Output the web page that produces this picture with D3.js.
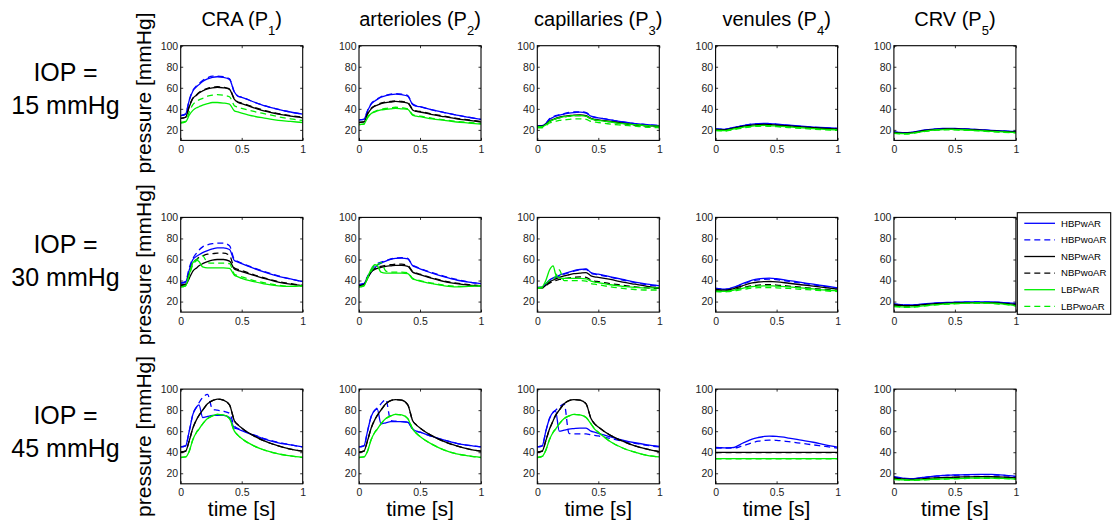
<!DOCTYPE html>
<html>
<head>
<meta charset="utf-8">
<script src="https://cdn.jsdelivr.net/npm/d3@7"></script>
<style>
  body { margin: 0; background: #fff; }
  svg { display: block; }
  text { font-family: "Liberation Sans", Arial, Helvetica, sans-serif; }
</style>
</head>
<body>
<svg id="chart" width="1114" height="527"></svg>
<script>
// Sample times over one cardiac cycle [s]
const timeS = [0, 0.04, 0.07, 0.1, 0.13, 0.15, 0.18, 0.22, 0.26, 0.3, 0.35, 0.4, 0.44, 0.47, 0.5, 0.6, 0.7, 0.8, 0.9, 1.0];

const seriesNames = ["HBPwAR", "HBPwoAR", "NBPwAR", "NBPwoAR", "LBPwAR", "LBPwoAR"];
const compartments = ["CRA", "arterioles", "capillaries", "venules", "CRV"];
const compartmentSub = ["1", "2", "3", "4", "5"];
const iopLevels = [15, 30, 45];
const xTicks = [0, 0.5, 1];
const yTicks = [20, 40, 60, 80, 100];

// Pressure [mmHg] per compartment, one row per series (order as seriesNames)
// IOP = 15 mmHg
const cra15 = [
  [33.5, 35, 48, 57, 61, 63, 66, 68.5, 70, 70.5, 70, 68, 56, 52, 51, 46.5, 42.5, 39.5, 37, 35],
  [33.5, 35, 48.5, 57.5, 62, 64, 67, 69.5, 71, 71, 70.5, 68.5, 56, 52, 51, 46.5, 42.5, 39.5, 37, 35],
  [31, 32, 42, 50, 53, 55, 57, 59, 60, 60.5, 60, 58.5, 49, 46, 45, 41, 37.5, 35, 33, 31.5],
  [31, 32, 42.5, 50.5, 53.5, 55.5, 57.5, 59.5, 60.5, 61, 60.5, 59, 49.5, 46.5, 45.5, 41.5, 38, 35.5, 33.5, 32],
  [26.5, 27.5, 34, 38.5, 41, 42, 43.5, 45, 46, 46, 45.5, 44.5, 38, 37, 36, 33, 31, 29, 28, 27],
  [27, 28, 37, 44, 47, 48.5, 50, 52, 53, 53.5, 53, 51.5, 43, 41.5, 40.5, 37.5, 35, 32.5, 30.5, 29]
];
const art15 = [
  [29.5, 30, 38, 44.5, 47.5, 49, 51, 52.5, 53.5, 54, 53.5, 52, 44, 42.5, 42, 39, 36.5, 34, 32, 30],
  [29.5, 30, 38.5, 45, 48, 49.5, 51.5, 53, 54, 54.5, 54, 52.5, 44.5, 43, 42, 39, 36.5, 34, 32, 30],
  [27, 27.5, 35, 40, 42.5, 43.5, 45, 46, 46.5, 47, 46.5, 45.5, 39, 37.5, 37, 34.5, 32.5, 30.5, 29, 27.5],
  [27, 27.5, 35.5, 40.5, 43, 44, 45.5, 46.5, 47, 47.5, 47, 46, 39.5, 38, 37.5, 35, 33, 31, 29.5, 28],
  [25, 25.5, 31.5, 35.5, 37, 38, 39, 39.5, 40, 40.5, 40, 39.5, 34, 33, 32.5, 30.5, 29, 27.5, 26.5, 25.5],
  [25, 25.5, 32, 36, 37.5, 38.5, 39.5, 40.5, 41, 41.5, 41, 40, 34.5, 33.5, 33, 31, 29.5, 28, 27, 26]
];
const cap15 = [
  [24, 24, 26, 30, 32, 33, 34, 35, 36, 36.5, 36.8, 36, 33, 32, 31.5, 29.5, 27.5, 26, 25, 24],
  [24, 24, 26, 30.5, 32.5, 33.5, 34.5, 35.5, 36.5, 37, 37.2, 36.5, 33.2, 32, 31.5, 29.5, 27.5, 26, 25, 24],
  [23.5, 23.5, 25.5, 28.5, 30, 31, 32, 33, 33.5, 34, 34.2, 33.5, 31, 30, 29.5, 28, 26.5, 25, 24, 23.5],
  [23, 23, 25, 28, 29.5, 30.5, 31.5, 32.5, 33, 33.5, 33.5, 33, 30.5, 29.5, 29, 27.5, 26, 24.5, 23.5, 23],
  [23, 23, 25, 28, 29.5, 30.5, 31.5, 32.5, 33, 33.5, 33.5, 33, 30.5, 29.5, 29, 27.5, 26, 25, 24, 23.5],
  [22, 22, 24, 26.5, 27.5, 28, 29, 29.5, 30, 30.5, 30.5, 30, 28, 27.5, 27, 25.5, 24.5, 23.5, 22.5, 22]
];
const ven15 = [
  [21, 20.7, 20.5, 21, 21.8, 22.3, 23, 24, 24.8, 25.5, 26, 26.2, 26, 25.8, 25.5, 24.5, 23.5, 22.7, 22, 21.5],
  [21, 20.7, 20.5, 21, 21.8, 22.3, 23, 24, 24.8, 25.5, 25.8, 26, 25.8, 25.6, 25.3, 24.3, 23.3, 22.5, 21.8, 21.3],
  [20.5, 20.2, 20, 20.5, 21.2, 21.7, 22.4, 23.3, 24, 24.6, 25, 25.2, 25, 24.8, 24.6, 23.7, 22.8, 22, 21.3, 20.8],
  [20, 19.8, 19.6, 20, 20.7, 21.2, 21.8, 22.7, 23.4, 24, 24.4, 24.6, 24.4, 24.2, 24, 23.2, 22.3, 21.5, 20.8, 20.3],
  [19.8, 19.5, 19.3, 19.8, 20.4, 20.9, 21.5, 22.3, 23, 23.6, 24, 24.2, 24, 23.8, 23.6, 22.8, 22, 21.2, 20.5, 20],
  [19.3, 19, 18.8, 19.2, 19.8, 20.3, 20.9, 21.7, 22.4, 23, 23.4, 23.6, 23.4, 23.2, 23, 22.2, 21.4, 20.6, 20, 19.5]
];
const crv15 = [
  [18, 17.6, 17.4, 17.4, 17.6, 17.9, 18.4, 19.2, 19.9, 20.5, 21, 21.3, 21.4, 21.4, 21.3, 20.9, 20.3, 19.6, 19, 18.5],
  [17.8, 17.4, 17.2, 17.2, 17.4, 17.7, 18.2, 19, 19.7, 20.3, 20.8, 21.1, 21.2, 21.2, 21.1, 20.7, 20.1, 19.4, 18.8, 18.3],
  [17.5, 17.1, 16.9, 16.9, 17.1, 17.4, 17.9, 18.7, 19.4, 20, 20.5, 20.8, 20.9, 20.9, 20.8, 20.4, 19.8, 19.1, 18.5, 18],
  [17.2, 16.8, 16.6, 16.6, 16.8, 17.1, 17.6, 18.4, 19.1, 19.7, 20.2, 20.5, 20.6, 20.6, 20.5, 20.1, 19.5, 18.8, 18.2, 17.7],
  [17, 16.6, 16.4, 16.4, 16.6, 16.9, 17.4, 18.2, 18.9, 19.5, 20, 20.3, 20.4, 20.4, 20.3, 19.9, 19.3, 18.6, 18, 17.5],
  [16.7, 16.3, 16.1, 16.1, 16.3, 16.6, 17.1, 17.9, 18.6, 19.2, 19.7, 20, 20.1, 20.1, 20, 19.6, 19, 18.3, 17.7, 17.2]
];

// IOP = 30 mmHg
const cra30 = [
  [37.5, 38.5, 50, 60, 63, 64.5, 66.5, 68.5, 70, 71, 71, 69.5, 59, 57.5, 56, 51.5, 47.5, 44, 41.5, 39],
  [37.5, 39, 52, 61, 66, 69, 72, 74, 75, 75.5, 75.5, 73, 60, 58, 56.5, 52, 48, 44.5, 41.5, 39],
  [35.5, 36, 42, 49, 52, 54, 56, 58, 59.5, 60, 60, 58.5, 51, 49.5, 48.5, 45, 41.5, 38.5, 36.5, 35],
  [35.5, 36.5, 47, 57, 60, 62, 63.5, 65, 65.5, 66, 66, 64, 52, 50.5, 49.5, 45.5, 42, 39, 37, 35.5],
  [34, 35, 46, 57, 59.5, 58, 53, 52, 52, 52, 52, 51.5, 45, 43.5, 42, 39, 36.5, 35, 34.5, 35],
  [34, 35, 45, 55, 59, 61.5, 63.5, 57, 56.5, 56.5, 56.5, 56, 46, 44.5, 43.5, 40, 37.5, 35.5, 34.5, 35]
];
const art30 = [
  [36, 37, 43, 48, 52, 54.5, 56.5, 58.5, 60, 61, 61.3, 60.5, 54, 52.5, 51, 47, 43.5, 40.5, 38.5, 37],
  [36, 37, 44, 50, 54.5, 56, 57.5, 59, 60.5, 61.5, 61.8, 61, 54.5, 53, 51.5, 47.5, 44, 41, 38.5, 37],
  [35, 36, 42, 48, 50.5, 51.5, 52.5, 53.5, 54, 54.5, 54.5, 53.5, 48, 46.5, 45.5, 42, 39, 37, 35.5, 35],
  [35, 36, 43, 49, 51.5, 52.5, 53.5, 54.5, 55, 55.5, 55.5, 54.5, 48.5, 47, 46, 42.5, 39.5, 37.5, 36, 35],
  [34, 35, 43, 51, 55, 54, 48, 47, 47, 47, 47, 46.5, 41.5, 40.5, 39.5, 37, 35, 34, 34.5, 35],
  [34, 35, 42, 49, 53, 55, 57, 49, 48, 48, 48, 47.5, 42, 41, 40, 37.5, 35.5, 34.5, 34.5, 35]
];
const cap30 = [
  [33.5, 33.5, 37, 40.5, 42.5, 43.5, 45, 46.5, 48, 49.5, 50.5, 51, 47.5, 46.5, 46, 43.5, 41, 38.5, 36.5, 35],
  [33.5, 33.5, 37, 40, 42, 43, 44.5, 46, 47.5, 49, 50, 50.5, 47, 46, 45.5, 43, 40.5, 38, 36, 34.5],
  [33, 33, 35.5, 38.5, 40.5, 41.5, 43, 44.5, 45.5, 46.5, 47, 47.5, 44.5, 43.5, 43, 41, 38.5, 36.5, 34.5, 33],
  [33, 33, 35, 37.5, 39, 40, 41, 42, 42.5, 43, 43.5, 43, 40.5, 39.5, 39, 37, 35.5, 34, 33, 32.5],
  [33, 34, 40, 50, 54, 46, 42.5, 42, 42, 42, 42, 41.5, 39.5, 38.5, 38, 36, 34.5, 33.5, 33, 33],
  [32.5, 33, 37, 40, 41, 44, 50, 40, 40, 40, 40, 39.5, 37, 36.5, 36, 34, 32.5, 31.5, 31, 31]
];
const ven30 = [
  [32.5, 32, 31.7, 32, 33, 33.7, 35, 37, 38.8, 40.3, 41.5, 42, 42.2, 42, 41.7, 40, 38.3, 36.5, 34.8, 33],
  [32.5, 32, 31.7, 31.9, 32.8, 33.4, 34.6, 36.5, 38.2, 39.6, 40.7, 41.2, 41.3, 41.2, 40.9, 39.3, 37.6, 35.9, 34.3, 32.7],
  [31.5, 31, 30.8, 31, 31.8, 32.4, 33.5, 35, 36.5, 37.7, 38.6, 39, 39.1, 39, 38.8, 37.4, 36, 34.6, 33.2, 31.8],
  [30.5, 30.2, 30, 30.2, 30.8, 31.3, 32.2, 33.3, 34.3, 35.1, 35.7, 36, 36, 35.9, 35.7, 34.7, 33.6, 32.5, 31.5, 30.7],
  [30, 29.8, 29.7, 29.9, 30.4, 30.8, 31.6, 32.6, 33.5, 34.2, 34.7, 35, 35, 34.9, 34.7, 33.9, 33, 32, 31, 30.3],
  [29.5, 29.3, 29.2, 29.4, 29.8, 30.1, 30.7, 31.5, 32.2, 32.8, 33.2, 33.4, 33.4, 33.3, 33.1, 32.5, 31.7, 30.9, 30.1, 29.6]
];
const crv30 = [
  [17.8, 17.3, 17, 16.8, 16.8, 16.9, 17.1, 17.5, 17.9, 18.3, 18.7, 19, 19.2, 19.3, 19.4, 19.7, 19.8, 19.6, 19.1, 18.2],
  [17.6, 17.1, 16.8, 16.6, 16.6, 16.7, 16.9, 17.3, 17.7, 18.1, 18.5, 18.8, 19, 19.1, 19.2, 19.5, 19.6, 19.4, 18.9, 18],
  [17, 16.6, 16.3, 16.1, 16.1, 16.2, 16.4, 16.8, 17.2, 17.6, 18, 18.3, 18.5, 18.6, 18.7, 19, 19.1, 18.9, 18.3, 17.3],
  [16.5, 16.1, 15.8, 15.6, 15.6, 15.7, 15.9, 16.3, 16.7, 17.1, 17.5, 17.8, 18, 18.1, 18.2, 18.5, 18.6, 18.4, 17.8, 16.8],
  [15.6, 15.2, 14.9, 14.8, 14.8, 14.9, 15.2, 15.7, 16.2, 16.7, 17.2, 17.6, 17.9, 18.1, 18.2, 18.6, 18.7, 18.5, 17.6, 16.1],
  [15.3, 14.9, 14.6, 14.5, 14.5, 14.6, 14.9, 15.4, 15.9, 16.4, 16.9, 17.3, 17.6, 17.8, 17.9, 18.3, 18.4, 18.2, 17.3, 15.8]
];

// IOP = 45 mmHg
const cra45 = [
  [45, 46, 60, 76, 83, 85, 73, 74, 75, 75, 75, 73, 63, 62, 60.5, 56, 52, 49, 47, 45],
  [45, 46, 60, 76, 83, 87, 92, 95, 81, 80, 79, 77, 65, 62.5, 61, 56.5, 52.5, 49.5, 47, 45],
  [40, 41, 51, 63, 71, 75, 80, 86, 89, 90.5, 89.5, 85, 70, 66, 63, 55.5, 50, 46, 43, 41],
  [40, 41, 51, 63, 71, 75, 80, 86, 89, 90.5, 89.5, 85, 70, 66, 63, 55.5, 50, 46, 43, 41],
  [35, 35.5, 41, 52, 59, 62, 67, 72, 74.5, 76, 75.5, 72, 60, 56, 53, 46, 41.5, 38.5, 36.5, 35],
  [35, 35.5, 41, 52, 59, 62, 67, 72, 74.5, 76, 75.5, 72, 60, 56, 53, 46, 41.5, 38.5, 36.5, 35]
];
const art45 = [
  [45, 46, 60, 74, 80, 81, 67, 68, 69, 69, 69, 68.5, 62, 60, 59, 55, 51.5, 48.5, 46.5, 45],
  [45, 46, 60, 74, 80, 82, 86, 90, 70, 69.5, 69, 68.5, 62, 60, 59, 55, 51.5, 48.5, 46.5, 45],
  [40, 41, 51, 63, 71, 75, 80, 86, 89, 90, 89.5, 85, 70, 66, 63, 55.5, 50, 46, 43, 41],
  [40, 41, 51, 63, 71, 75, 80, 86, 89, 90, 89.5, 85, 70, 66, 63, 55.5, 50, 46, 43, 41],
  [35, 35.5, 41, 52, 59, 62, 67, 72, 74.5, 76, 75.5, 72, 62, 58, 55, 47.5, 42, 38.5, 36.5, 35],
  [35, 35.5, 41, 52, 59, 62, 67, 72, 74.5, 76, 75.5, 72, 62, 58, 55, 47.5, 42, 38.5, 36.5, 35]
];
const cap45 = [
  [45, 46, 60, 72, 78, 79, 60, 61, 62, 62.5, 63, 63, 60, 59, 58, 54.5, 51.5, 49, 47, 45.5],
  [45, 46, 60, 72, 78, 80, 83, 86, 58, 57.5, 57.5, 57.5, 56.5, 56, 55.5, 53, 50.5, 48.5, 46.5, 45],
  [40, 41, 51, 62, 70, 75, 80, 86, 89, 90, 89.5, 86, 72, 67, 64, 56, 50.5, 46, 43, 40.5],
  [40, 41, 51, 62, 70, 75, 80, 86, 89, 90, 89.5, 86, 72, 67, 64, 56, 50.5, 46, 43, 40.5],
  [35, 36, 42, 52, 59, 62, 67, 72, 74.5, 76, 75.5, 73, 67, 62, 59, 50, 44, 40, 37, 35.5],
  [35, 36, 42, 52, 59, 62, 67, 72, 74.5, 76, 75.5, 73, 67, 62, 59, 50, 44, 40, 37, 35.5]
];
const ven45 = [
  [44.5, 44.3, 44.2, 44.2, 44.3, 44.5, 46, 48.5, 50.5, 52.5, 54, 55, 55.3, 55.2, 55, 53.5, 51.5, 49.5, 47, 44.8],
  [44, 44, 44, 44, 44, 44, 44.5, 46, 47.5, 49, 50.5, 51.3, 51.5, 51.5, 51.3, 50, 48.5, 47, 45.5, 44],
  [39.8, 39.8, 39.8, 39.8, 39.8, 39.8, 39.8, 39.8, 39.8, 39.8, 39.8, 39.8, 39.8, 39.8, 39.8, 39.8, 39.8, 39.8, 39.8, 39.8],
  [39.6, 39.6, 39.6, 39.6, 39.6, 39.6, 39.6, 39.6, 39.6, 39.6, 39.6, 39.6, 39.6, 39.6, 39.6, 39.6, 39.6, 39.6, 39.6, 39.6],
  [34, 34, 34, 34, 34, 34, 34, 34, 34, 34, 34, 34, 34, 34, 34, 34, 34, 34, 34, 34],
  [33.8, 33.8, 33.8, 33.8, 33.8, 33.8, 33.8, 33.8, 33.8, 33.8, 33.8, 33.8, 33.8, 33.8, 33.8, 33.8, 33.8, 33.8, 33.8, 33.8]
];
const crv45 = [
  [16.8, 16, 15.4, 15.1, 15, 15, 15.2, 15.8, 16.4, 16.9, 17.5, 17.9, 18.2, 18.3, 18.4, 18.8, 19, 18.9, 18.2, 17],
  [16.5, 15.8, 15.2, 14.9, 14.8, 14.8, 15, 15.5, 16.1, 16.6, 17.2, 17.6, 17.9, 18, 18.1, 18.5, 18.7, 18.6, 17.9, 16.7],
  [15.5, 15, 14.6, 14.3, 14.2, 14.2, 14.3, 14.6, 15, 15.3, 15.6, 15.9, 16.1, 16.2, 16.3, 16.6, 16.8, 16.7, 16.3, 15.6],
  [15.3, 14.8, 14.4, 14.1, 14, 14, 14.1, 14.4, 14.8, 15.1, 15.4, 15.7, 15.9, 16, 16.1, 16.4, 16.6, 16.5, 16.1, 15.4],
  [14.3, 14, 13.8, 13.6, 13.5, 13.5, 13.6, 13.8, 14, 14.2, 14.5, 14.7, 14.8, 14.9, 15, 15.3, 15.5, 15.4, 15.1, 14.5],
  [14.1, 13.8, 13.6, 13.4, 13.3, 13.3, 13.4, 13.6, 13.8, 14, 14.3, 14.5, 14.6, 14.7, 14.8, 15.1, 15.3, 15.2, 14.9, 14.3]
];

const panelRows = [
  [cra15, art15, cap15, ven15, crv15],
  [cra30, art30, cap30, ven30, crv30],
  [cra45, art45, cap45, ven45, crv45]
];

// Line styles per series
const seriesColor = ["#0000ff", "#0000ff", "#000000", "#000000", "#00ee00", "#00ee00"];
const seriesDash = [null, "6,4", null, "6,4", null, "6,4"];

// Grid layout of the small multiples
const panelW = 122, panelH = 94.7;
const colLeft = d3.scaleLinear().domain([0, 1]).range([180.7, 359.0]);
const rowTop = d3.scaleLinear().domain([0, 1]).range([45.7, 217.4]);

const svg = d3.select("#chart");
const x = d3.scaleLinear().domain([0, 1]).range([0, panelW]);
const y = d3.scaleLinear().domain([10, 100]).range([panelH, 0]);

const line = d3.line()
  .x((d, i) => x(timeS[i]))
  .y(d => y(d))
  .curve(d3.curveMonotoneX);

const defs = svg.append("defs");
defs.append("clipPath").attr("id", "panel-clip")
  .append("rect").attr("width", panelW).attr("height", panelH);

panelRows.forEach((row, r) => {
  row.forEach((series, c) => {
    const g = svg.append("g")
      .attr("transform", `translate(${colLeft(c)},${rowTop(r)})`);

    // inward ticks on all four sides
    const tickStyle = sel => {
      sel.select(".domain").remove();
      sel.selectAll(".tick line").attr("stroke", "#000").attr("stroke-width", 0.8);
      sel.selectAll(".tick text").attr("fill", "#222")
        .style("font-size", "10.5px")
        .style("font-family", "'Liberation Sans', Arial, sans-serif");
    };
    g.append("g").attr("transform", `translate(0,${panelH})`)
      .call(d3.axisBottom(x).tickValues(xTicks).tickFormat(d3.format("")).tickSize(-2.5).tickPadding(5))
      .call(tickStyle);
    g.append("g")
      .call(d3.axisLeft(y).tickValues(yTicks).tickSize(-2.5).tickPadding(2.5))
      .call(tickStyle);
    g.append("g")
      .call(d3.axisTop(x).tickValues(xTicks).tickFormat("").tickSize(-2.5))
      .call(tickStyle);
    g.append("g").attr("transform", `translate(${panelW},0)`)
      .call(d3.axisRight(y).tickValues(yTicks).tickFormat("").tickSize(-2.5))
      .call(tickStyle);

    const plot = g.append("g").attr("clip-path", "url(#panel-clip)");
    series.forEach((vals, s) => {
      plot.append("path")
        .datum(vals)
        .attr("d", line)
        .attr("fill", "none")
        .attr("stroke", seriesColor[s])
        .attr("stroke-width", 1.3)
        .attr("stroke-dasharray", seriesDash[s]);
    });

    g.append("rect")
      .attr("width", panelW).attr("height", panelH)
      .attr("fill", "none").attr("stroke", "#000").attr("stroke-width", 1.1);
  });
});

// Column titles with subscripted pressure index
compartments.forEach((name, c) => {
  const t = svg.append("text")
    .attr("x", colLeft(c) + panelW / 2)
    .attr("y", 25.7)
    .attr("text-anchor", "middle")
    .style("font-size", "20px")
    .attr("fill", "#000");
  t.append("tspan").text(name + " (P");
  t.append("tspan").text(compartmentSub[c]).style("font-size", "13px").attr("dy", 9.5);
  t.append("tspan").text(")").attr("dy", -9.5);
});

// Row labels and y-axis titles
iopLevels.forEach((iop, r) => {
  const cy = rowTop(r) + panelH / 2;
  svg.append("text")
    .attr("x", 65.5).attr("y", cy - 12)
    .attr("text-anchor", "middle")
    .style("font-size", "25px")
    .text("IOP =");
  svg.append("text")
    .attr("x", 65.5).attr("y", cy + 21)
    .attr("text-anchor", "middle")
    .style("font-size", "25px")
    .text(`${iop} mmHg`);
  svg.append("text")
    .attr("transform", `translate(151,${cy}) rotate(-90)`)
    .attr("text-anchor", "middle")
    .style("font-size", "21px")
    .text("pressure [mmHg]");
});

// x-axis titles under the bottom row
compartments.forEach((name, c) => {
  svg.append("text")
    .attr("x", colLeft(c) + panelW / 2)
    .attr("y", 516)
    .attr("text-anchor", "middle")
    .style("font-size", "21px")
    .text("time [s]");
});

// Legend
const legend = svg.append("g").attr("transform", "translate(1017.3,212.7)");
legend.append("rect")
  .attr("width", 93.4).attr("height", 101.6)
  .attr("fill", "#fff").attr("stroke", "#000").attr("stroke-width", 1.1);
const legendRow = d3.scaleLinear().domain([0, 5]).range([10.6, 93.6]);
seriesNames.forEach((name, s) => {
  const ly = legendRow(s);
  legend.append("line")
    .attr("x1", 7).attr("x2", 37.7)
    .attr("y1", ly).attr("y2", ly)
    .attr("stroke", seriesColor[s]).attr("stroke-width", 1.3)
    .attr("stroke-dasharray", seriesDash[s]);
  legend.append("text")
    .attr("x", 43.7).attr("y", ly)
    .attr("dy", "0.35em")
    .style("font-size", "9.6px")
    .text(name);
});
</script>
</body>
</html>
